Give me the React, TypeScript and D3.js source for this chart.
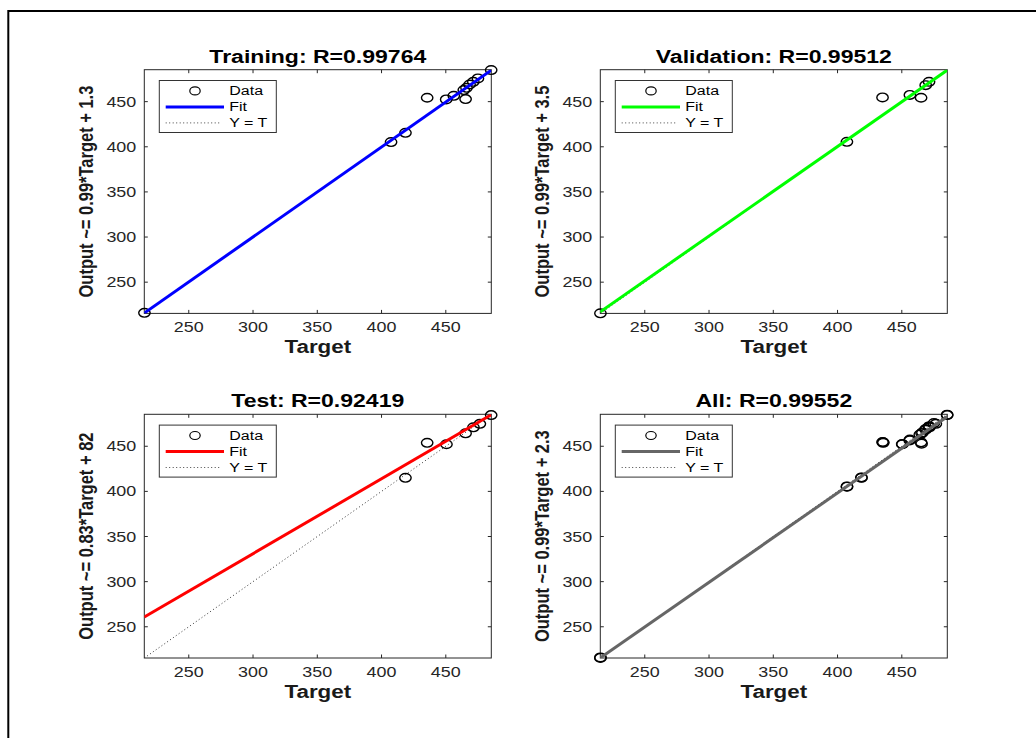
import * as d3 from 'd3';

// target / output pairs
const trainTargets = [215.5, 407.4, 418.6, 435.5, 450.3, 456.2, 465.4, 464.0, 466.1, 468.5, 471.4, 475.0, 485.3];
const trainOutputs = [216.0, 405.2, 415.5, 454.3, 452.5, 456.5, 452.8, 462.8, 465.3, 469.0, 472.0, 475.7, 485.0];

const valTargets = [215.5, 407.3, 435.0, 456.3, 465.0, 468.6, 471.2];
const valOutputs = [215.5, 405.5, 454.7, 457.5, 454.3, 468.3, 472.0];

const testTargets = [418.6, 435.5, 450.5, 465.4, 471.5, 476.5, 485.3];
const testOutputs = [415.0, 453.8, 452.2, 464.3, 471.0, 474.8, 484.5];

const allTargets = [...trainTargets, ...valTargets, ...testTargets];
const allOutputs = [...trainOutputs, ...valOutputs, ...testOutputs];

const titles = ['Training: R=0.99764', 'Validation: R=0.99512', 'Test: R=0.92419', 'All: R=0.99552'];
// fit lines as they appear in the plots (labels are rounded)
const slopes = [0.996, 0.992, 0.83, 0.99];
const intercepts = [1.3, 3.5, 82, 2.3];
const yLabels = [
  'Output ~= 0.99*Target + 1.3',
  'Output ~= 0.99*Target + 3.5',
  'Output ~= 0.83*Target + 82',
  'Output ~= 0.99*Target + 2.3',
];
const fitColors = ['#0000ff', '#00ff00', '#ff0000', '#666666'];
const tickValues = [250, 300, 350, 400, 450];
const axisLimits = [215.4, 485.4];
const legendLabels = ['Data', 'Fit', 'Y = T'];

const SX = 1.28; // the figure is stretched horizontally
const FONT = 'Liberation Sans, Arial, Helvetica, sans-serif';
const W = 347, H = 243.7;

function Panel({ i, targets, outputs, left, top }) {
  const x = d3.scaleLinear().domain(axisLimits).range([left, left + W]);
  const y = d3.scaleLinear().domain(axisLimits).range([top + H, top]);
  const fit = d3.line().x(d => x(d)).y(d => y(slopes[i] * d + intercepts[i]));
  const ident = d3.line().x(d => x(d)).y(d => y(d));
  const clipId = `clip${i}`;
  const lx = left + 15, ly = top + 10.8;
  const ax = '#262626';

  return (
    <g>
      <defs>
        <clipPath id={clipId}>
          <rect x={left} y={top} width={W} height={H} />
        </clipPath>
      </defs>
      <rect x={left} y={top} width={W} height={H} fill="#fff" stroke={ax} strokeWidth={1} />
      {tickValues.map(t => (
        <g key={'t' + t} stroke={ax} strokeWidth={1}>
          <line x1={x(t)} x2={x(t)} y1={top + H} y2={top + H - 3.5} />
          <line x1={x(t)} x2={x(t)} y1={top} y2={top + 3.5} />
          <line y1={y(t)} y2={y(t)} x1={left} x2={left + 3.5} />
          <line y1={y(t)} y2={y(t)} x1={left + W} x2={left + W - 3.5} />
        </g>
      ))}
      {tickValues.map(t => (
        <text key={'xl' + t} transform={`translate(${x(t)},${top + H + 18.5}) scale(${SX},1)`}
          textAnchor="middle" fontSize={14} fill={ax} fontFamily={FONT}>{t}</text>
      ))}
      {tickValues.map(t => (
        <text key={'yl' + t} transform={`translate(${left - 8},${y(t) + 5}) scale(${SX},1)`}
          textAnchor="end" fontSize={14} fill={ax} fontFamily={FONT}>{t}</text>
      ))}

      {targets.map((t, k) => (
        <ellipse key={'p' + k} cx={x(t)} cy={y(outputs[k])} rx={5.7} ry={4.3}
          fill="none" stroke="#000" strokeWidth={1.4} />
      ))}
      <g clipPath={`url(#${clipId})`}>
        <path d={ident(axisLimits)} stroke="#333" strokeWidth={1} strokeDasharray="1 2.5" fill="none" />
        <path d={fit(axisLimits)} stroke={fitColors[i]} strokeWidth={3} fill="none" />
      </g>

      <text transform={`translate(${left + W / 2},${top - 7}) scale(${SX},1)`} textAnchor="middle"
        fontSize={18} fontWeight="bold" fill="#000" fontFamily={FONT}>{titles[i]}</text>
      <text transform={`translate(${left + W / 2},${top + H + 40}) scale(${SX},1)`} textAnchor="middle"
        fontSize={17.5} fontWeight="bold" fill="#1a1a1a" fontFamily={FONT}>Target</text>
      <text transform={`translate(${left - 51},${top + H / 2}) scale(${SX},1) rotate(-90)`} textAnchor="middle"
        fontSize={16.5} fontWeight="bold" fill="#1a1a1a" fontFamily={FONT}>{yLabels[i]}</text>

      <rect x={lx} y={ly} width={117} height={52} fill="#fff" stroke="#333" strokeWidth={1} />
      <ellipse cx={lx + 35.7} cy={ly + 10.4} rx={5.2} ry={4} fill="none" stroke="#000" strokeWidth={1.2} />
      <line x1={lx + 6.4} x2={lx + 64.7} y1={ly + 26.4} y2={ly + 26.4} stroke={fitColors[i]} strokeWidth={3} />
      <line x1={lx + 6.4} x2={lx + 60.7} y1={ly + 42.4} y2={ly + 42.4} stroke="#444" strokeWidth={1} strokeDasharray="1 2.5" />
      {legendLabels.map((s, k) => (
        <text key={s} transform={`translate(${lx + 70},${ly + 10.4 + 16 * k + 4.5}) scale(${SX},1)`}
          fontSize={12.5} fill="#000" fontFamily={FONT}>{s}</text>
      ))}
    </g>
  );
}

export default function App() {
  const lefts = [144.3, 600.3, 144.3, 600.3];
  const tops = [69.7, 69.7, 414.3, 414.3];
  const sets = [
    [trainTargets, trainOutputs],
    [valTargets, valOutputs],
    [testTargets, testOutputs],
    [allTargets, allOutputs],
  ];
  return (
    <svg width={1036} height={738} style={{ position: 'absolute', left: 0, top: 0, background: '#fff' }}>
      <rect width={1036} height={738} fill="#fff" />
      <path d="M8.3,740 V11 H1040" fill="none" stroke="#000" strokeWidth={2} />
      {sets.map(([t, o], i) => (
        <Panel key={i} i={i} targets={t} outputs={o} left={lefts[i]} top={tops[i]} />
      ))}
    </svg>
  );
}
